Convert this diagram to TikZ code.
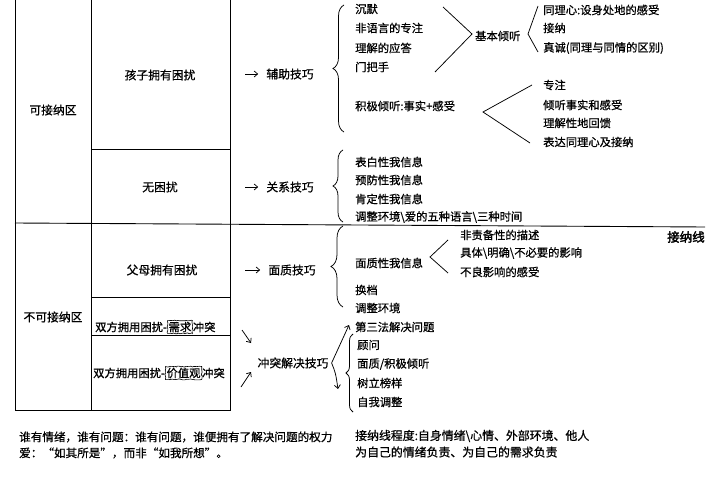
\documentclass[tikz,border=0pt]{standalone}
\usepackage{fontspec}
\setmainfont{Noto Sans CJK SC}[FakeBold=0.7]
\newfontfamily\handfont[FakeBold=2.5]{Noto Sans CJK SC}
\usetikzlibrary{decorations.pathreplacing,decorations.pathmorphing,arrows.meta}
\begin{document}
\begin{tikzpicture}[x=1pt,y=-1pt,
  item/.style={anchor=west, inner sep=0pt, font=\fontsize{11.3}{13}\selectfont},
  cell/.style={inner sep=0pt, font=\fontsize{11.8}{13}\selectfont},
  foot/.style={anchor=west, inner sep=0pt, font=\fontsize{11.6}{13}\selectfont},
  footr/.style={anchor=west, inner sep=0pt, font=\fontsize{11.9}{13}\selectfont},
  rule/.style={line width=0.9pt},
  stroke/.style={line width=0.75pt},
  br/.style={line width=0.75pt, decorate, decoration={brace, amplitude=#1}},
  arr/.style={line width=0.75pt, -{Straight Barb[length=3.5pt,width=6pt]}},
  wavy/.style={draw, line width=0.6pt, inner sep=1.2pt, decorate, decoration={random steps, segment length=1.6pt, amplitude=0.5pt}},
]
\useasboundingbox (0,0) rectangle (720,500);
\fill[white] (0,0) rectangle (720,500);

% table
\draw[rule] (15,0) -- (15,410) -- (230,410) -- (230,0);
\draw[rule] (91,0) -- (91,410);
\draw[rule] (91,149) -- (230,149);
\draw[rule] (15,223) -- (705,227);
\draw[rule] (91,297) -- (230,297);
\draw[rule] (91,335) -- (230,335);

% cells
\node[cell] (kj) at (53,110) {可接纳区};
\node[cell] (bkj) at (53,317) {不可接纳区};
\node[cell] (hz) at (160,75) {孩子拥有困扰};
\node[cell] (wk) at (160,187) {无困扰};
\node[cell] (fm) at (162,270) {父母拥有困扰};
\node[item] (s1a) at (95,327) {双方拥用困扰-};
\node[item, wavy] (s1b) at (s1a.east) {需求};
\node[item] (s1c) at (s1b.east) {冲突};
\node[item] (s2a) at (93,373) {双方拥用困扰-};
\node[item, wavy] (s2b) at (s2a.east) {价值观};
\node[item] (s2c) at (s2b.east) {冲突};

% techniques
\node[cell] (fz) at (290,74) {辅助技巧};
\node[cell] (gx) at (290,187) {关系技巧};
\node[cell] (mz) at (292,270) {面质技巧};
\node[cell] (ct) at (293,363) {冲突解决技巧};

\coordinate (p1) at (245,74);
\coordinate (p2) at (245,187);
\coordinate (p3) at (245,270);
\draw[arr] (p1) -- ([xshift=-8pt]fz.west);
\draw[arr] (p2) -- ([xshift=-8pt]gx.west);
\draw[arr] (p3) -- ([xshift=-8pt]mz.west);
\coordinate (q1) at (242,330);
\coordinate (q1e) at (251,343);
\coordinate (q2) at (241,387);
\coordinate (q2e) at (251,372);
\draw[arr] (q1) -- (q1e);
\draw[arr] (q2) -- (q2e);

% braces
\draw[br=11pt] (344,132) -- (344,5);
\draw[br=10pt] (343,222) -- (343,150);
\draw[br=12pt] (343,307) -- (343,226);
\draw[br=7pt] (353,412) -- (353,334);

% helping skills
\node[item] (i1) at (355,9) {沉默};
\node[item] (i2) at (355,28) {非语言的专注};
\node[item] (i3) at (355,48) {理解的应答};
\node[item] (i4) at (355,67) {门把手};
\node[item] (jb) at (475,36) {基本倾听};
\draw[stroke] (443,7) -- (472,34) -- (435,72);
\draw[stroke] (538,6) -- (528,34) -- (538,52);
\node[item] (r1) at (543,10) {同理心:设身处地的感受};
\node[item] (r2) at (543,28) {接纳};
\node[item] (r3) at (543,48) {真诚(同理与同情的区别)};
\node[item] (jj) at (355,106) {积极倾听:事实+感受};
\draw[stroke] (532,85) -- (483,112) -- (530,143);
\node[item] (k1) at (543,85) {专注};
\node[item] (k2) at (543,105) {倾听事实和感受};
\node[item] (k3) at (543,123) {理解性地回馈};
\node[item] (k4) at (543,142) {表达同理心及接纳};

% relationship skills
\node[item] (g1) at (355,162) {表白性我信息};
\node[item] (g2) at (355,180) {预防性我信息};
\node[item] (g3) at (355,199) {肯定性我信息};
\node[item] (g4) at (355,217) {调整环境\textbackslash 爱的五种语言\textbackslash 三种时间};

% confrontation skills
\node[item] (m1) at (355,263) {面质性我信息};
\draw[stroke] (448,240) -- (430,257) -- (448,273);
\node[item] (n1) at (460,235) {非责备性的描述};
\node[item] (n2) at (460,253) {具体\textbackslash 明确\textbackslash 不必要的影响};
\node[item] (n3) at (460,272) {不良影响的感受};
\node[item] (m2) at (355,290) {换档};
\node[item] (m3) at (355,308) {调整环境};
\node[inner sep=0pt, font=\handfont\fontsize{12.5}{14}\selectfont] (jnx) at (686,237) {接纳线};

% conflict skills
\node[item] (c1) at (355,327) {第三法解决问题};
\node[item] (c2) at (357,345) {顾问};
\node[item] (c3) at (357,364) {面质/积极倾听};
\node[item] (c4) at (357,383) {树立榜样};
\node[item] (c5) at (357,402) {自我调整};
\draw[arr] ([xshift=3pt]ct.east) -- ([xshift=-6pt,yshift=2pt]c1.west);
\draw[arr] ([xshift=3pt]ct.east) .. controls +(4,10) .. (338,389);

% footnotes
\node[foot] (b1) at (19,437) {谁有情绪，谁有问题：谁有问题，谁便拥有了解决问题的权力};
\node[foot] (b2) at (19,453) {爱：“如其所是”，而非“如我所想”。};
\node[footr] (b3) at (355,436) {接纳线程度:自身情绪\textbackslash 心情、外部环境、他人};
\node[footr] (b4) at (355,452) {为自己的情绪负责、为自己的需求负责};
\end{tikzpicture}
\end{document}
